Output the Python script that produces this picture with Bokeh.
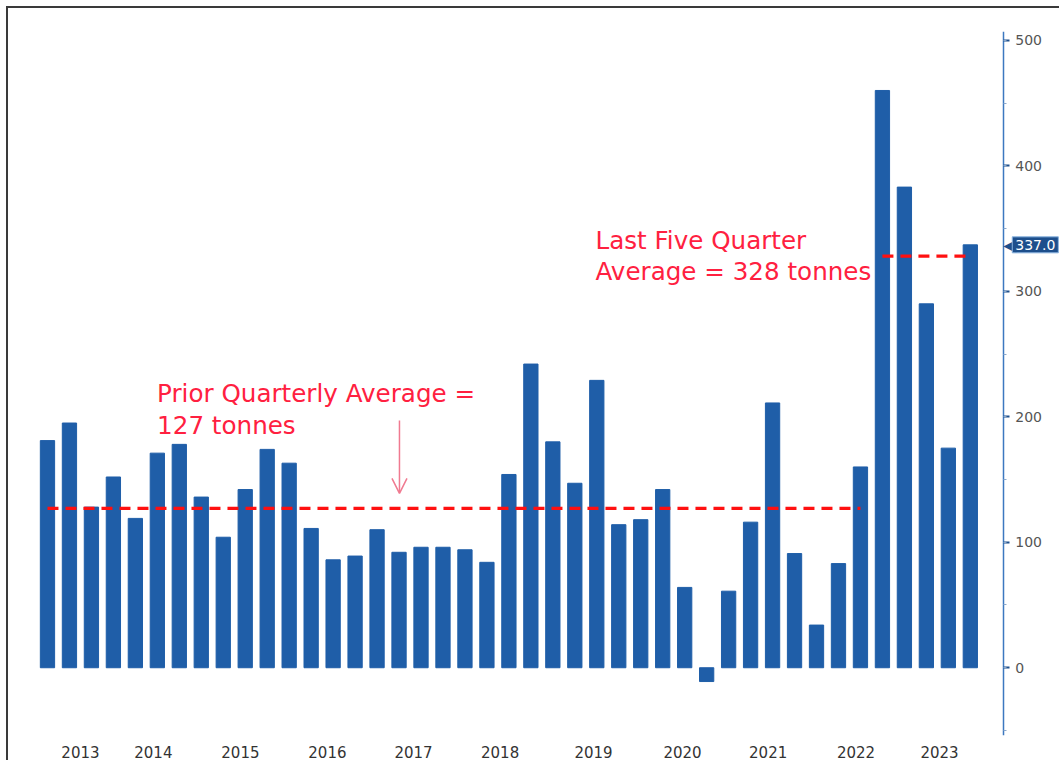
from bokeh.plotting import figure
from bokeh.models import (Range1d, LinearAxis, FixedTicker, SingleIntervalTicker,
                          Label, Arrow, OpenHead, ColumnDataSource)
from bokeh.embed import file_html
from bokeh.resources import INLINE

# ---------------- data ----------------
quarters = [f"{y}Q{q}" for y in range(2013, 2024) for q in range(1, 5)][:43]
demand = [181, 195, 128, 152, 119, 171, 178, 136, 104, 142, 174, 163,
          111, 86, 89, 110, 92, 96, 96, 94, 84, 154, 242, 180,
          147, 229, 114, 118, 142, 64, -11, 61, 116, 211, 91, 34,
          83, 160, 460, 383, 290, 175, 337]
year_labels = ["2013", "2014", "2015", "2016", "2017", "2018",
               "2019", "2020", "2021", "2022", "2023"]
prior_avg = 127
last5_avg = 328
last_value = 337.0

idx = list(range(len(demand)))
src = ColumnDataSource(dict(x=idx, top=demand, q=quarters))

# label positions along the quarter index axis
year_label_pos = [1.5, 4.82, 8.78, 12.74, 16.66, 20.6, 24.85, 28.9, 32.8, 36.8, 40.6]

FONT = "DejaVu Sans"
RED_TXT = "#ff2040"

W, H = 1053, 754
AXIS_X = 43.5          # x (quarter index units) where the value axis is drawn
p = figure(width=W, height=H, output_backend="svg", toolbar_location=None,
           x_range=Range1d(-1.0, 46.15), y_range=Range1d(-54, 507),
           min_border_left=17, min_border_right=0, min_border_top=23,
           min_border_bottom=27, y_axis_location=None)
p.styles = {"border-top": "2px solid #3a3a3a", "border-left": "2px solid #3a3a3a",
            "margin-left": "6px", "margin-top": "6px"}
p.background_fill_color = "white"
p.border_fill_color = "white"
p.outline_line_color = None
p.xgrid.visible = False
p.ygrid.visible = False

# bars
p.vbar(x="x", top="top", width=0.65, source=src, fill_color="#1f5ea8",
       line_color="#1f5ea8")

# averages
n_last = 5
p.line(x=[0, len(demand) - n_last - 1], y=[prior_avg, prior_avg],
       line_color="#ff1010", line_width=3.2, line_dash="11 7")
p.line(x=[len(demand) - n_last, len(demand) - 1], y=[last5_avg, last5_avg],
       line_color="#ff1010", line_width=3.2, line_dash="11 7")

# x axis
xa = p.xaxis[0]
xa.ticker = FixedTicker(ticks=year_label_pos)
xa.major_label_overrides = {pos: lab for pos, lab in zip(year_label_pos, year_labels)}
xa.axis_line_color = None
xa.major_tick_line_color = None
xa.minor_tick_line_color = None
xa.major_label_text_font = FONT
xa.major_label_text_font_size = "15px"
xa.major_label_text_color = "#333333"
xa.major_label_standoff = 4

# right value axis, drawn at a fixed x location
ya = LinearAxis(ticker=SingleIntervalTicker(interval=100, num_minor_ticks=2),
                fixed_location=AXIS_X)
ya.axis_line_color = "#3c78c0"
ya.axis_line_width = 1.5
ya.major_tick_line_color = "#1d4f8c"
ya.major_tick_line_width = 2
ya.major_tick_out = 6
ya.major_tick_in = 0
ya.minor_tick_line_color = "#8aa8cc"
ya.minor_tick_out = 3
ya.minor_tick_in = 0
ya.major_label_text_font = FONT
ya.major_label_text_font_size = "14px"
ya.major_label_text_color = "#555555"
ya.major_label_standoff = 6
p.add_layout(ya, "right")

# annotations
TS = "24.6px"
p.add_layout(Label(x=4.99, y=218.5, text="Prior Quarterly Average =", text_font=FONT,
                   text_font_size=TS, text_color=RED_TXT, text_baseline="middle"))
p.add_layout(Label(x=4.99, y=193, text="127 tonnes", text_font=FONT,
                   text_font_size=TS, text_color=RED_TXT, text_baseline="middle"))
p.add_layout(Label(x=24.94, y=340.5, text="Last Five Quarter", text_font=FONT,
                   text_font_size=TS, text_color=RED_TXT, text_baseline="middle"))
p.add_layout(Label(x=24.94, y=316, text="Average = 328 tonnes", text_font=FONT,
                   text_font_size=TS, text_color=RED_TXT, text_baseline="middle"))

p.add_layout(Arrow(end=OpenHead(size=15, line_color="#f07a90", line_width=1.5),
                   x_start=16.02, y_start=197, x_end=16.02, y_end=139,
                   line_color="#f07a90", line_width=1.5))

# last value flag on the value axis
p.add_layout(Label(x=AXIS_X, y=last_value, text="\u25c0", text_font=FONT,
                   text_font_size="17px", text_color="#1d4f8c",
                   text_baseline="middle", x_offset=0))
p.add_layout(Label(x=AXIS_X, y=last_value, text=f"{last_value:.1f}", text_font=FONT,
                   text_font_size="14px", text_color="white", text_baseline="middle",
                   x_offset=9, background_fill_color="#1d4f8c",
                   border_line_color="#8ab4e0", padding=3))

open("out.html", "w").write(file_html(p, INLINE))
